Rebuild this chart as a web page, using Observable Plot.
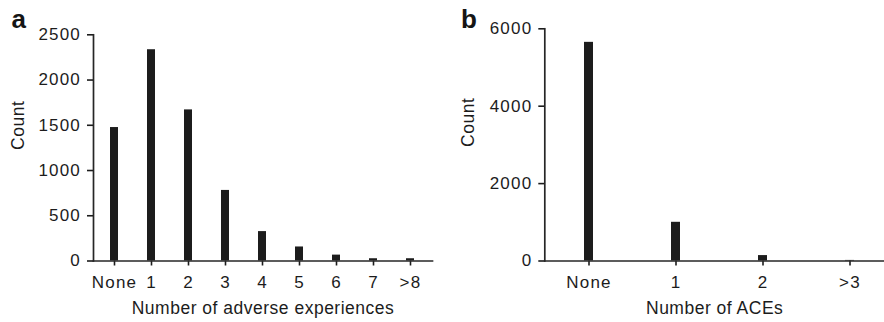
<!DOCTYPE html>
<html>
<head>
<meta charset="utf-8">
<script src="https://cdn.jsdelivr.net/npm/d3@7"></script>
<script src="https://cdn.jsdelivr.net/npm/@observablehq/plot@0.6"></script>
<style>
  html, body { margin: 0; padding: 0; background: #fff; }
  #wrap { position: relative; width: 884px; height: 322px; overflow: hidden;
          font-family: "Liberation Sans", Arial, Helvetica, sans-serif; }
  .panel { position: absolute; top: 0; }
  .tag { position: absolute; font-weight: bold; font-size: 26px; line-height: 1; color: #151515; }
  .panel svg g[aria-label="text"] { letter-spacing: 0.5px; }
  .panel svg g[aria-label$="tick"] { stroke-width: 1.6px; }
</style>
</head>
<body>
<div id="wrap">
  <div class="panel" id="pa" style="left:0px"></div>
  <div class="panel" id="pb" style="left:440px"></div>
  <div class="tag" style="left:11.5px;top:6px">a</div>
  <div class="tag" style="left:461px;top:6px">b</div>
</div>
<script>
// Panel a
const catsA = ["None", "1", "2", "3", "4", "5", "6", "7", ">8"];
const countsA = [1475, 2335, 1670, 780, 325, 155, 65, 25, 25];
const ticksA = [0, 500, 1000, 1500, 2000, 2500];
const xLabelA = "Number of adverse experiences";
const yLabelA = "Count";

// Panel b
const catsB = ["None", "1", "2", ">3"];
const countsB = [5650, 1000, 140, 15];
const ticksB = [0, 2000, 4000, 6000];
const xLabelB = "Number of ACEs";
const yLabelB = "Count";

const FONT = '"Liberation Sans", Arial, Helvetica, sans-serif';
const INK = "#1c1c1c";

function panel(o) {
  const data = o.cats.map((c, i) => ({cat: c, count: o.counts[i]}));
  return Plot.plot({
    width: o.width,
    height: 322,
    marginLeft: o.marginLeft,
    marginRight: o.marginRight,
    marginTop: o.marginTop,
    marginBottom: 61.5,
    style: {fontFamily: FONT, fontSize: "17px", color: INK, background: "transparent", letterSpacing: "1.2px"},
    x: {domain: o.cats, paddingInner: o.paddingInner, paddingOuter: o.paddingOuter, align: o.align,
        tickSize: 5, tickPadding: 10, label: null},
    y: {domain: [0, o.ticks[o.ticks.length - 1]], ticks: o.ticks, tickSize: 6, tickPadding: 6.5,
        tickFormat: "d", label: null},
    marks: [
      Plot.barY(data, {x: "cat", y: "count", fill: "#1c1c1c"}),
      Plot.frame({anchor: "left", stroke: "#262626", strokeWidth: 1.7}),
      Plot.frame({anchor: "bottom", stroke: "#262626", strokeWidth: 1.7}),
      Plot.text([o.xLabel], {text: d => d, frameAnchor: "bottom", lineAnchor: "top", dy: 41,
                             fontSize: 17.5, fill: INK}),
      Plot.text([o.yLabel], {text: d => d, frameAnchor: "left", rotate: -90, dx: o.yLabelDx, dy: 2,
                             fontSize: 17.5, fill: INK})
    ]
  });
}

document.getElementById("pa").appendChild(panel({
  cats: catsA, counts: countsA, ticks: ticksA, xLabel: xLabelA, yLabel: yLabelA,
  width: 440, marginLeft: 93, marginRight: 8, marginTop: 34.3,
  paddingInner: 0.78, paddingOuter: 0.41, align: 0.5, yLabelDx: -74.7
}));

document.getElementById("pb").appendChild(panel({
  cats: catsB, counts: countsB, ticks: ticksB, xLabel: xLabelB, yLabel: yLabelB,
  width: 444, marginLeft: 104.3, marginRight: 0, marginTop: 28.3,
  paddingInner: 0.9, paddingOuter: 0.4, align: 0.57, yLabelDx: -76
}));
</script>
</body>
</html>
